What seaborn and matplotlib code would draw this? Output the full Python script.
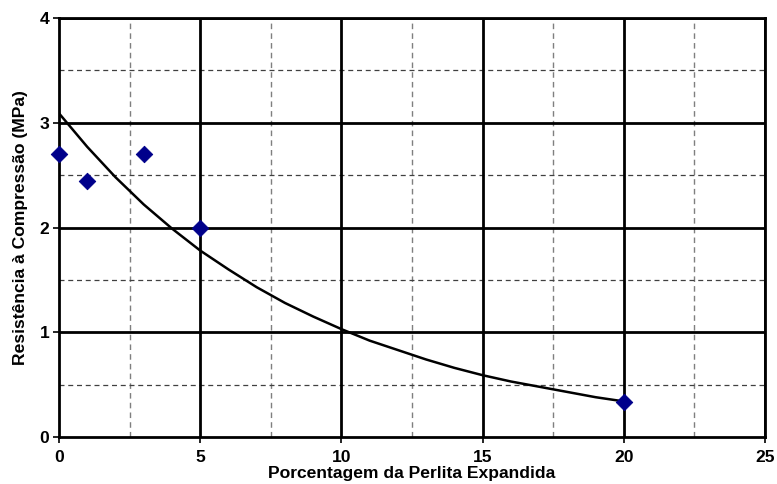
import matplotlib
matplotlib.use("Agg")
import matplotlib.pyplot as plt
import seaborn as sns
import numpy as np
import pandas as pd

# Data
perlita = [0, 1, 3, 5, 20]
resistencia = [2.70, 2.44, 2.70, 2.00, 0.33]

curve_x = [0, 1, 2, 3, 4, 5, 6, 7, 8, 9, 10, 11, 12, 13, 14, 15, 16, 17, 18, 19, 20]
curve_y = [3.09, 2.77, 2.48, 2.22, 1.99, 1.78, 1.60, 1.43, 1.28, 1.15, 1.03,
           0.92, 0.83, 0.74, 0.66, 0.59, 0.53, 0.48, 0.43, 0.38, 0.34]

x_ticks = [0, 5, 10, 15, 20, 25]
y_ticks = [0, 1, 2, 3, 4]
x_minor = [2.5, 7.5, 12.5, 17.5, 22.5]
y_minor = [0.5, 1.5, 2.5, 3.5]

sns.set_theme(style="white")
plt.rcParams['font.family'] = ['Liberation Sans', 'DejaVu Sans']

fig = plt.figure(figsize=(7.77, 4.84), dpi=100)
ax = fig.add_axes([59/777, 1-437/484, (765-59)/777, (437-18)/484])

# minor dashed grid
for xv in x_minor:
    ax.axvline(xv, color="#7f7f7f", lw=1.0, ls=(0, (4, 3)), zorder=1)
for yv in y_minor:
    ax.axhline(yv, color="#404040", lw=0.9, ls=(0, (4, 3)), zorder=1)
# major solid grid
for xv in x_ticks[1:]:
    ax.axvline(xv, color="black", lw=2.0, zorder=1.5)
for yv in y_ticks[1:]:
    ax.axhline(yv, color="black", lw=2.0, zorder=1.5)

df_curve = pd.DataFrame({"x": curve_x, "y": curve_y})
sns.lineplot(data=df_curve, x="x", y="y", color="black", lw=1.8, ax=ax, zorder=3)

df = pd.DataFrame({"x": perlita, "y": resistencia})
sns.scatterplot(data=df, x="x", y="y", marker="D", s=70, color="#00008B",
                edgecolor="#00008B", ax=ax, zorder=4, clip_on=False)

ax.set_xlim(0, 25)
ax.set_ylim(0, 4)
ax.set_xticks(x_ticks)
ax.set_yticks(y_ticks)
ax.set_xticklabels([str(t) for t in x_ticks], fontsize=12.6, fontweight="bold", color="black")
ax.set_yticklabels([str(t) for t in y_ticks], fontsize=12.6, fontweight="bold", color="black")
ax.tick_params(axis="both", direction="out", length=4, width=1.2, color="black",
               bottom=True, left=True)
ax.tick_params(axis="x", pad=5)
ax.tick_params(axis="y", pad=3)
ax.set_xlabel("Porcentagem da Perlita Expandida", fontsize=12.6, fontweight="bold",
              labelpad=1, color="black")
ax.set_ylabel("Resistência à Compressão (MPa)", fontsize=12.6, fontweight="bold",
              labelpad=8, color="black")

for side in ["left", "bottom", "top", "right"]:
    ax.spines[side].set_visible(True)
    ax.spines[side].set_color("black")
    ax.spines[side].set_linewidth(2.0)

fig.savefig("out.png", dpi=100)
